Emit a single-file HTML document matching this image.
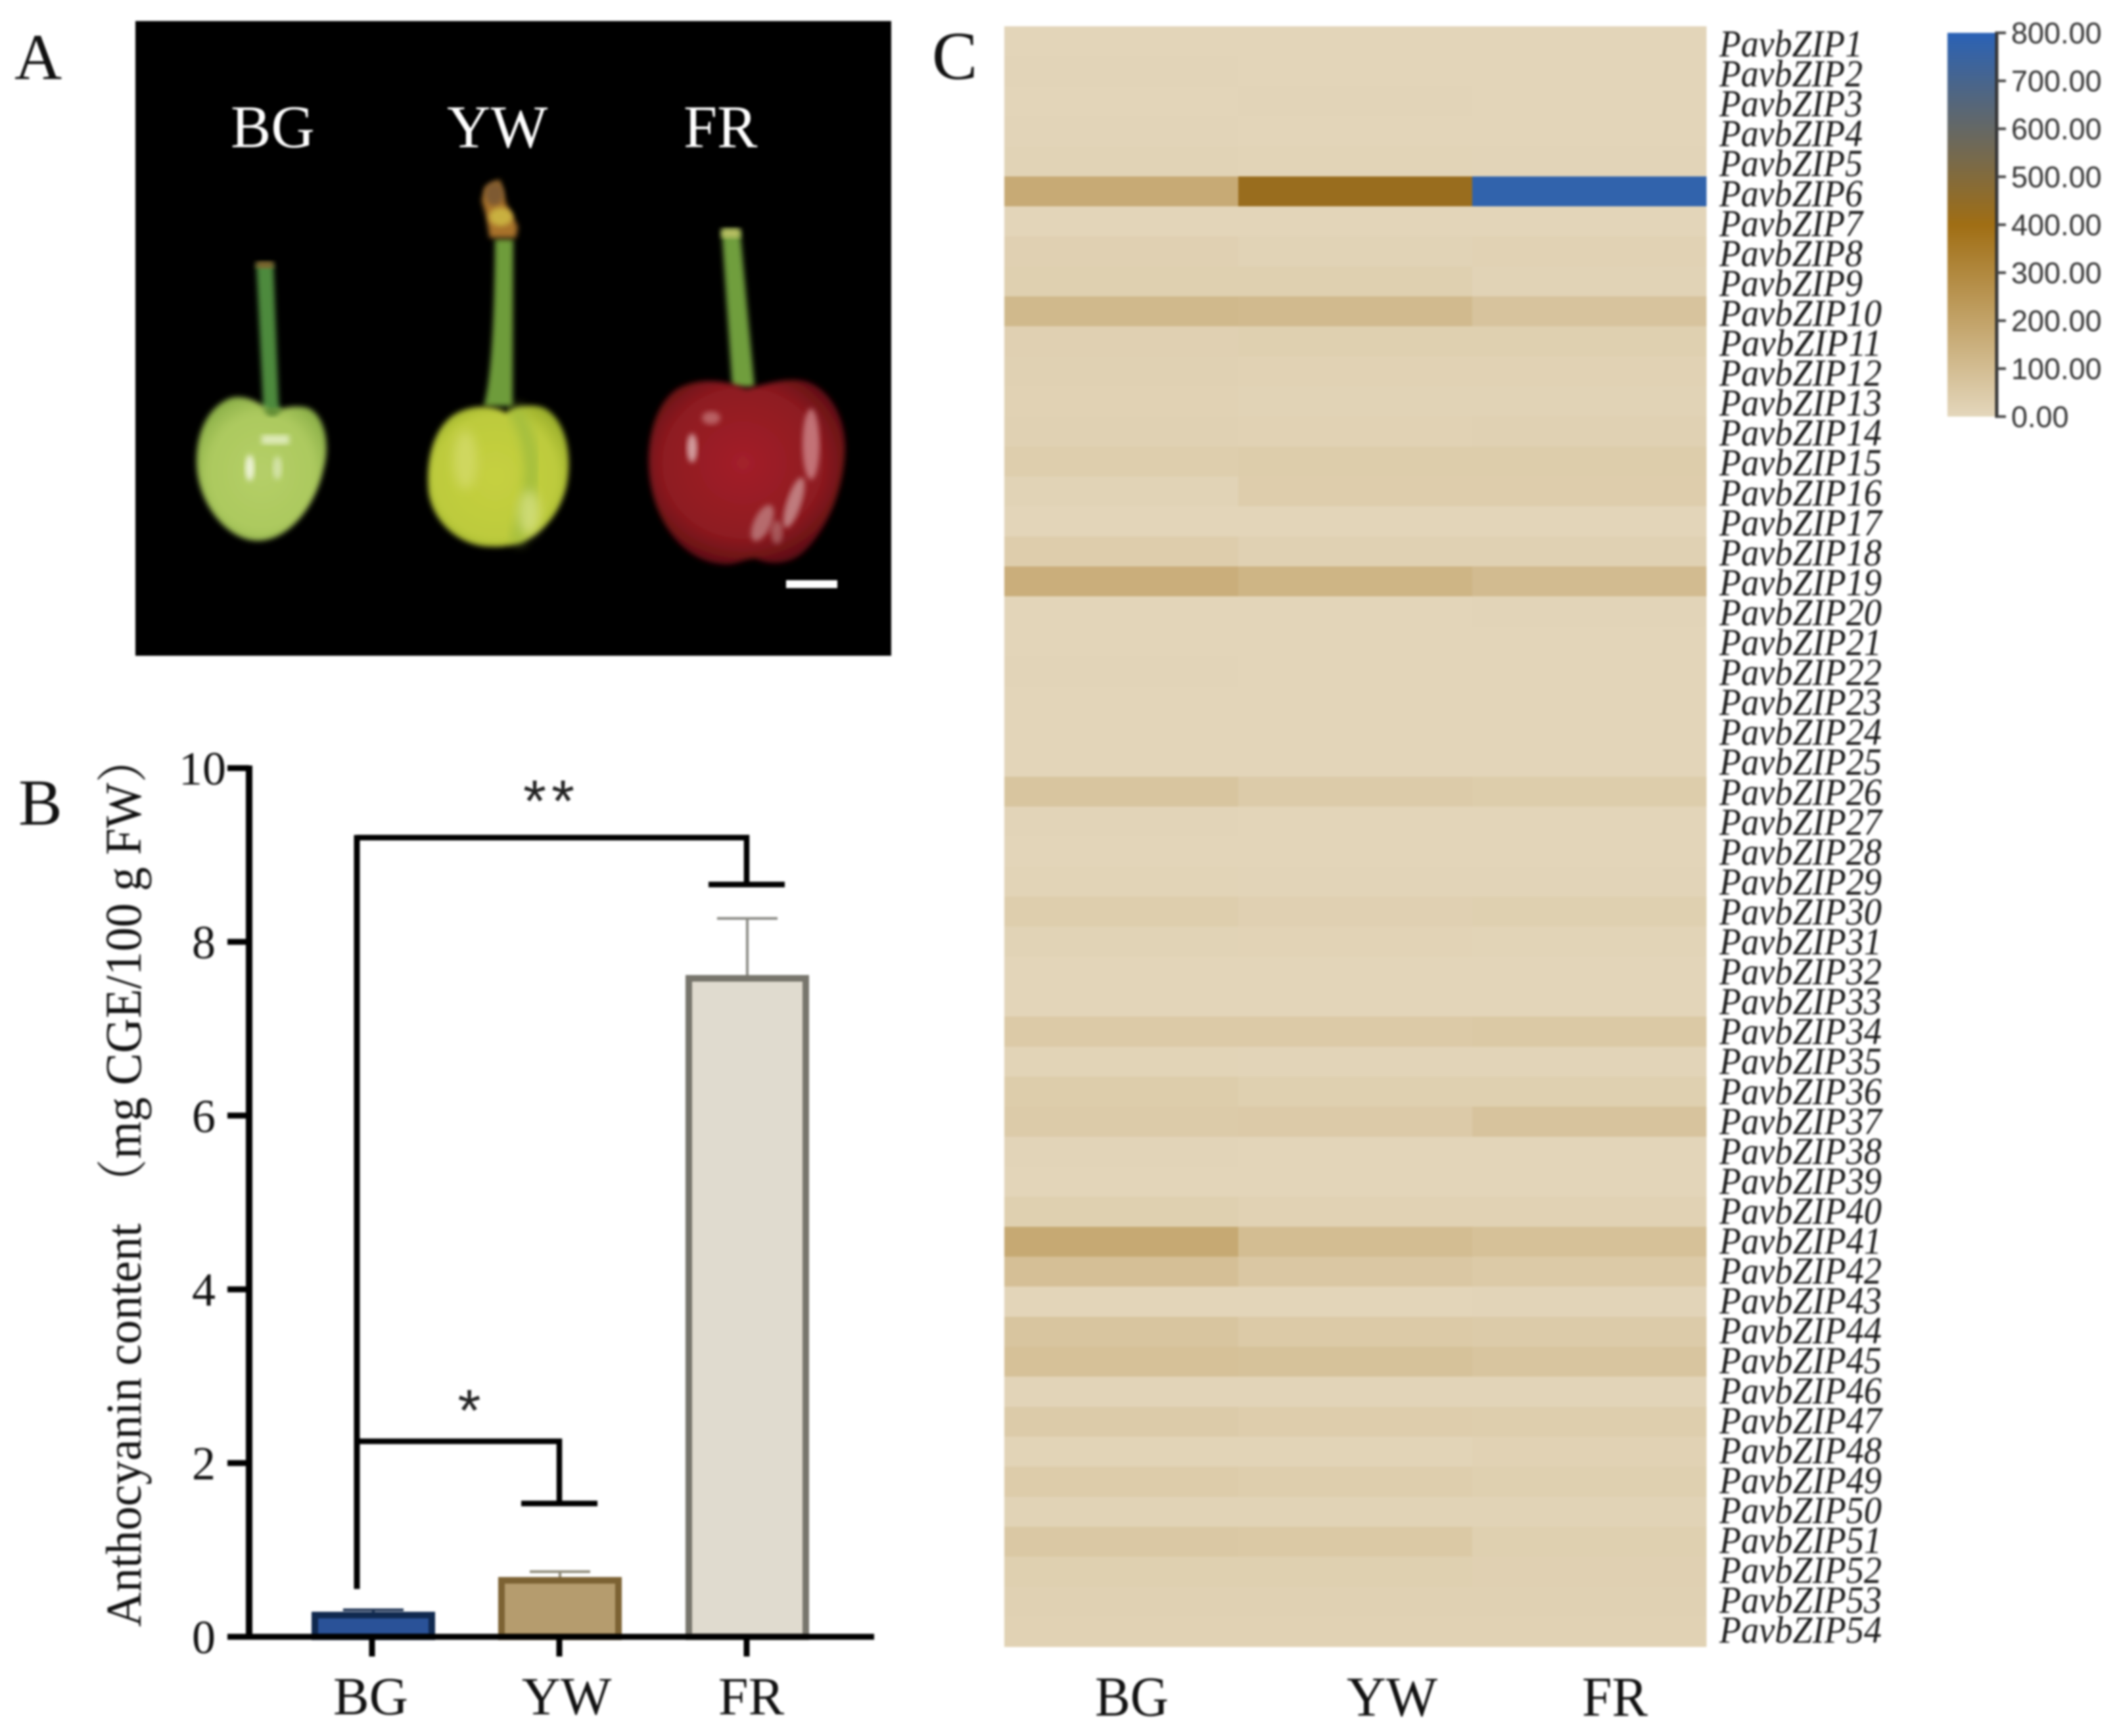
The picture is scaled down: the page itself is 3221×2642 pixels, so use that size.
<!DOCTYPE html>
<html lang="en">
<head>
<meta charset="utf-8">
<title>Cherry anthocyanin content and PavbZIP expression</title>
<style>
html,body{margin:0;padding:0;background:#fff;}
#figure{display:block;width:3221px;height:2642px;filter:blur(1.6px);font-family:"Liberation Serif","Noto Serif CJK SC",serif;}
</style>
</head>
<body>
<svg id="figure" xmlns="http://www.w3.org/2000/svg" width="3221" height="2642" viewBox="0 0 3221 2642">
<defs>
<filter id="soft" x="-20%" y="-20%" width="140%" height="140%"><feGaussianBlur stdDeviation="4"/></filter>
<filter id="softer" x="-40%" y="-40%" width="180%" height="180%"><feGaussianBlur stdDeviation="8"/></filter>
<radialGradient id="greenBody" cx="50%" cy="52%" r="62%">
<stop offset="0" stop-color="#B5CF68"/><stop offset="0.65" stop-color="#ACC95E"/><stop offset="1" stop-color="#7FA640"/>
</radialGradient>
<radialGradient id="yellowBody" cx="48%" cy="50%" r="62%">
<stop offset="0" stop-color="#C6D040"/><stop offset="0.7" stop-color="#BDCB3C"/><stop offset="1" stop-color="#8FA526"/>
</radialGradient>
<radialGradient id="redBody" cx="48%" cy="45%" r="62%">
<stop offset="0" stop-color="#A3202A"/><stop offset="0.65" stop-color="#8E1A20"/><stop offset="1" stop-color="#4E0A0E"/>
</radialGradient>
<linearGradient id="colorbarGradient" x1="0" y1="1" x2="0" y2="0">
<stop offset="0" stop-color="#E4D7BC"/><stop offset="0.5" stop-color="#A06E14"/><stop offset="1" stop-color="#2A62B6"/>
</linearGradient>
</defs>

<rect width="3221" height="2642" fill="#ffffff"/>

<text x="22" y="120" font-size="100" fill="#111">A</text>
<text x="28" y="1255" font-size="100" fill="#111">B</text>
<text x="1418" y="120" font-size="104" fill="#111">C</text>

<g>
<rect x="206" y="32" width="1150" height="966" fill="#000"/>
<text x="351" y="224" font-size="92" fill="#fff">BG</text>
<text x="680" y="224" font-size="92" fill="#fff">YW</text>
<text x="1040" y="224" font-size="92" fill="#fff">FR</text>

<g>
<path d="M390 402 L416 402 L424 612 L428 632 L396 632 L400 612 Z" fill="#4E8A3C" filter="url(#soft)"/>
<rect x="390" y="398" width="26" height="10" fill="#8A6A30" filter="url(#soft)"/>
<path d="M412 628 C395 610 370 600 350 606 C315 620 298 660 299 705 C300 765 345 823 392 823 C440 823 480 770 492 715 C505 670 490 625 465 620 C445 616 425 622 412 628 Z" fill="url(#greenBody)" filter="url(#soft)"/>
<path d="M400 622 Q414 645 430 622 Z" fill="#5E8A30" filter="url(#soft)"/>
<rect x="398" y="662" width="42" height="14" fill="#EEF5D8" opacity="0.75" filter="url(#soft)"/>
<ellipse cx="380" cy="712" rx="7" ry="20" fill="#F4F8E4" opacity="0.9" filter="url(#soft)"/>
<ellipse cx="422" cy="712" rx="7" ry="18" fill="#DCE9B8" opacity="0.8" filter="url(#soft)"/>
</g>

<g>
<path d="M753 364 L781 364 L780 618 L736 618 Q752 560 753 364 Z" fill="#6E9C3A" filter="url(#soft)"/>
<path d="M738 285 L760 273 L770 310 L788 345 L785 362 L745 362 L740 330 L733 305 Z" fill="#A8722C" filter="url(#soft)"/>
<ellipse cx="752" cy="295" rx="14" ry="18" fill="#7E5A30" filter="url(#soft)"/>
<ellipse cx="762" cy="330" rx="18" ry="14" fill="#C9B040" filter="url(#soft)"/>
<path d="M770 628 C745 612 700 618 680 640 C655 665 648 710 652 750 C660 800 705 833 748 832 C790 835 845 810 862 740 C872 690 860 640 830 622 C810 612 785 620 770 628 Z" fill="url(#yellowBody)" filter="url(#soft)"/>
<path d="M782 622 C800 650 812 690 808 730 C805 770 795 800 785 825" stroke="#A3BE3E" stroke-width="20" fill="none" filter="url(#softer)"/>
<ellipse cx="708" cy="700" rx="18" ry="45" fill="#D6DC70" opacity="0.7" filter="url(#softer)"/>
<ellipse cx="805" cy="780" rx="16" ry="34" fill="#DDE58C" opacity="0.7" filter="url(#softer)"/>
</g>

<g>
<path d="M1098 350 L1126 350 L1148 589 L1114 589 Z" fill="#6F9E3C" filter="url(#soft)"/>
<rect x="1098" y="348" width="28" height="14" fill="#B9C064" filter="url(#soft)"/>
<path d="M1135 592 C1110 580 1065 572 1030 592 C1000 612 985 660 987 710 C990 785 1035 852 1095 858 C1120 862 1130 850 1150 850 C1175 862 1205 858 1225 838 C1262 800 1285 740 1286 680 C1285 630 1260 590 1225 580 C1195 574 1165 585 1135 592 Z" fill="url(#redBody)" filter="url(#soft)"/>
<ellipse cx="1053" cy="682" rx="8" ry="22" fill="#E8C8C8" opacity="0.75" filter="url(#soft)"/>
<ellipse cx="1082" cy="636" rx="14" ry="10" fill="#D89A9A" opacity="0.55" filter="url(#soft)"/>
<ellipse cx="1234" cy="676" rx="13" ry="54" fill="#DFA0A4" opacity="0.65" filter="url(#soft)"/>
<ellipse cx="1208" cy="765" rx="11" ry="40" transform="rotate(18 1208 765)" fill="#D9AFAF" opacity="0.65" filter="url(#soft)"/>
<ellipse cx="1160" cy="796" rx="13" ry="30" transform="rotate(25 1160 796)" fill="#CFA0A0" opacity="0.6" filter="url(#soft)"/>
<ellipse cx="1182" cy="810" rx="9" ry="18" fill="#C08A8A" opacity="0.55" filter="url(#soft)"/>
</g>
<rect x="1196" y="883" width="78" height="12" fill="#fff"/>
</g>

<g id="barChart"></g>
<g id="heatmap"></g>
<g id="colorbar"></g>
</svg>

<script>
// ---- Panel B data ----
const barCategories = ["BG", "YW", "FR"];
const barValues = [0.25, 0.65, 7.58];
const barErrors = [0.06, 0.10, 0.69];
const yTickValues = [0, 2, 4, 6, 8, 10];
const significanceLabels = ["**", "*"];
const bracketLevels = [9.2, 2.25];
const bracketDrops = [8.66, 1.535];
const bracketTargets = [2, 1];
const bracketStart = 0.55;

// ---- Panel C data ----
const heatColumns = ["BG", "YW", "FR"];
const geneLabels = ["PavbZIP1","PavbZIP2","PavbZIP3","PavbZIP4","PavbZIP5","PavbZIP6","PavbZIP7","PavbZIP8","PavbZIP9","PavbZIP10","PavbZIP11","PavbZIP12","PavbZIP13","PavbZIP14","PavbZIP15","PavbZIP16","PavbZIP17","PavbZIP18","PavbZIP19","PavbZIP20","PavbZIP21","PavbZIP22","PavbZIP23","PavbZIP24","PavbZIP25","PavbZIP26","PavbZIP27","PavbZIP28","PavbZIP29","PavbZIP30","PavbZIP31","PavbZIP32","PavbZIP33","PavbZIP34","PavbZIP35","PavbZIP36","PavbZIP37","PavbZIP38","PavbZIP39","PavbZIP40","PavbZIP41","PavbZIP42","PavbZIP43","PavbZIP44","PavbZIP45","PavbZIP46","PavbZIP47","PavbZIP48","PavbZIP49","PavbZIP50","PavbZIP51","PavbZIP52","PavbZIP53","PavbZIP54"];
const expressionBG = [8,10,8,10,15,170,8,25,28,115,25,22,20,22,35,15,8,38,155,8,8,10,8,8,8,70,10,8,12,35,15,8,8,50,12,40,45,10,8,28,175,90,8,70,85,10,45,12,42,15,58,28,22,18];
const expressionYW = [8,8,10,8,12,425,8,15,28,110,28,18,15,20,40,38,8,22,130,8,8,8,8,6,6,45,8,8,10,25,14,8,8,50,10,28,48,8,8,20,100,60,8,50,80,10,38,12,35,15,55,28,22,18];
const expressionFR = [8,8,8,8,10,775,8,18,15,75,28,20,15,22,40,38,8,22,105,10,8,8,8,6,8,40,8,8,10,28,12,8,8,55,10,28,75,8,8,18,85,50,10,45,70,10,35,18,28,15,28,25,22,18];
const colorbarTicks = [0, 100, 200, 300, 400, 500, 600, 700, 800];

const NS = "http://www.w3.org/2000/svg";
function make(parent, tag, attrs, text) {
  const el = document.createElementNS(NS, tag);
  for (const k in attrs) el.setAttribute(k, attrs[k]);
  if (text !== undefined) el.textContent = text;
  parent.appendChild(el);
  return el;
}

// ---- Bar chart axes ----
const bar = document.getElementById("barChart");
const yScale = v => 2491 - 132.2 * v;
const xScale = i => 566 + 285 * i;
const labelX = [564, 862, 1143];
const barHalf = 89;

barValues.forEach((v, i) => {
  const fills = ["#2A5298", "#B59C6E", "#E0DBCF"];
  const strokes = ["#10294F", "#7C6233", "#77756C"];
  const errColors = ["#1A2F50", "#8E8A78", "#8A8A84"];
  const cx = xScale(i) + (i === 0 ? 2 : 1);
  const err = make(bar, "path", {d: `M${cx} ${yScale(v)} V${yScale(v + barErrors[i])} M${cx - 46} ${yScale(v + barErrors[i])} H${cx + 46}`, stroke: errColors[i], "stroke-width": 4, fill: "none"});
  
  
  const r = make(bar, "rect", {x: cx - barHalf, y: yScale(v), width: barHalf * 2, height: yScale(0) - yScale(v), fill: fills[i], stroke: strokes[i], "stroke-width": 10});
  
  
  const tick = make(bar, "line", {x1: xScale(i), x2: xScale(i), y1: yScale(0), y2: 2521, stroke: "#000", "stroke-width": 9});
  
  
  const lab = make(bar, "text", {x: labelX[i], y: 2609, "font-size": 82, "text-anchor": "middle", fill: "#111"}, barCategories[i]);
  
  
});

yTickValues.forEach(v => {
  const tick = make(bar, "line", {x1: 346, x2: 379, y1: yScale(v), y2: yScale(v), stroke: "#000", "stroke-width": 9});
  
  
  const lab = make(bar, "text", {x: v === 10 ? 344 : 328, y: yScale(v) + 25, "font-size": 72, "text-anchor": "end", fill: "#111"}, String(v));
  
  
});

const yAxis = make(bar, "line", {x1: 379, x2: 379, y1: yScale(10) - 4, y2: yScale(0) + 4, stroke: "#000", "stroke-width": 10});


const xAxis = make(bar, "line", {x1: 346, x2: 1330, y1: yScale(0), y2: yScale(0), stroke: "#000", "stroke-width": 9});



const titleA = make(bar, "text", {transform: "translate(214 2476) rotate(-90)", "font-size": 76, fill: "#111", textLength: 614, lengthAdjust: "spacingAndGlyphs"}, "Anthocyanin content");


const titleB = make(bar, "text", {transform: "translate(214 1837) rotate(-90)", "font-size": 78, fill: "#111", textLength: 719, lengthAdjust: "spacingAndGlyphs"}, "（mg CGE/100 g FW）");



// ---- Significance brackets ----
const bracketX0 = xScale(0) - 23;
const starCenters = [839, 714];
const starLift = [25, 16];
bracketLevels.forEach((lvl, i) => {
  const tx = xScale(bracketTargets[i]);
  const p = make(bar, "path", {d: `M${bracketX0} ${yScale(lvl)} H${tx} V${yScale(bracketDrops[i])} M${tx - 58} ${yScale(bracketDrops[i])} H${tx + 58}`, stroke: "#000", "stroke-width": 8.5, fill: "none"});
  
  
  const star = make(bar, "text", {x: starCenters[i], y: yScale(lvl) - starLift[i], "font-size": 90, "text-anchor": "middle", fill: "#222", "font-family": "Liberation Sans, sans-serif", "letter-spacing": i === 0 ? 8 : 0}, significanceLabels[i]);
  
  
});
const bracketStem = make(bar, "line", {x1: bracketX0, x2: bracketX0, y1: yScale(bracketLevels[0]) - 4, y2: yScale(bracketStart), stroke: "#000", "stroke-width": 9});



// ---- Heatmap ----
const heat = document.getElementById("heatmap");
const heatLeft = 1528, heatTop = 40, colW = 356, rowH = 45.67;
const colorFor = v => {
  const low = [228, 215, 188], mid = [160, 110, 20], high = [42, 98, 182];
  const t = Math.max(0, Math.min(1, v / 800));
  const a = t < 0.5 ? low : mid, b = t < 0.5 ? mid : high, u = t < 0.5 ? t * 2 : (t - 0.5) * 2;
  return "rgb(" + a.map((c, k) => Math.round(c + (b[k] - c) * u)).join(",") + ")";
};
const heatSeries = [expressionBG, expressionYW, expressionFR];
heatSeries.forEach((series, c) => {
  series.forEach((v, r) => {
    const cell = make(heat, "rect", {x: heatLeft + c * colW, y: heatTop + r * rowH, width: colW + 0.5, height: rowH + 0.5, fill: colorFor(v), "shape-rendering": "crispEdges"});
    
    
  });
});
geneLabels.forEach((g, r) => {
  const lab = make(heat, "text", {x: 2616, y: 86 + 45.55 * r, "font-size": 58, "font-style": "italic", fill: "#1a1a1a", textLength: r < 9 ? 218 : 247, lengthAdjust: "spacingAndGlyphs"}, g);
  
  
});
const heatLabelX = [1722, 2118, 2457];
heatColumns.forEach((c, i) => {
  const lab = make(heat, "text", {x: heatLabelX[i], y: 2611, "font-size": 86, "text-anchor": "middle", fill: "#111", textLength: [112, 138, 100][i], lengthAdjust: "spacingAndGlyphs"}, c);
  
  
});

// ---- Colorbar ----
const cb = document.getElementById("colorbar");
const cbScale = v => 634 - (584 / 800) * v;
const cbRect = make(cb, "rect", {x: 2963, y: cbScale(800), width: 73, height: cbScale(0) - cbScale(800), fill: "url(#colorbarGradient)"});


const cbAxis = make(cb, "line", {x1: 3038, x2: 3038, y1: cbScale(800) - 2, y2: cbScale(0) + 2, stroke: "#333", "stroke-width": 5});


colorbarTicks.forEach(v => {
  const t = make(cb, "line", {x1: 3038, x2: 3052, y1: cbScale(v), y2: cbScale(v), stroke: "#444", "stroke-width": 4});
  
  
  const lab = make(cb, "text", {x: 3060, y: cbScale(v) + 16, "font-size": 45, fill: "#333", "font-family": "Liberation Sans, sans-serif"}, v.toFixed(2));
  
  
});
</script>
</body>
</html>
